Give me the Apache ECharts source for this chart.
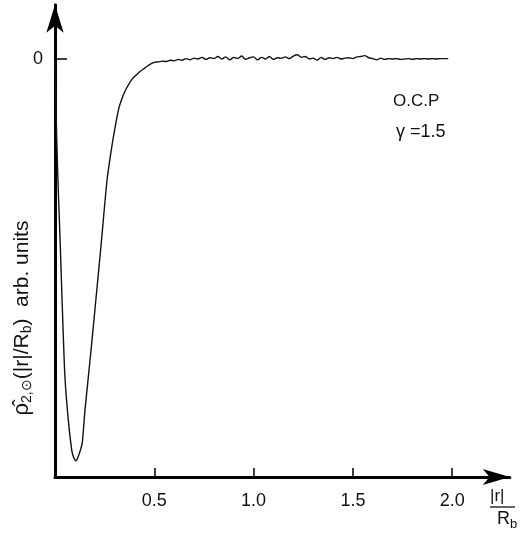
<!DOCTYPE html>
<html>
<head>
<meta charset="utf-8">
<script src="https://cdn.jsdelivr.net/npm/echarts@6/dist/echarts.min.js"></script>
<style>
html,body{margin:0;padding:0;background:#fff;}
#chart{width:521px;height:539px;}
</style>
</head>
<body>
<div id="chart"></div>
<script>
// r = |r|/R_b
const rValues = [
  0, 0.004, 0.013, 0.025, 0.038, 0.050, 0.067, 0.084, 0.093, 0.106, 0.118, 0.127, 0.137,
  0.151, 0.168, 0.185, 0.201, 0.232, 0.262, 0.282, 0.302, 0.322, 0.344, 0.36, 0.38,
  0.394, 0.41, 0.428, 0.445, 0.462, 0.48,
  0.50, 0.52, 0.54, 0.56, 0.58, 0.60, 0.62, 0.64, 0.66, 0.68, 0.70, 0.72, 0.74, 0.76, 0.78,
  0.80, 0.82, 0.84, 0.86, 0.88, 0.90, 0.92, 0.94, 0.96, 0.98, 1.00, 1.02, 1.04, 1.06, 1.08,
  1.10, 1.12, 1.14, 1.16, 1.18, 1.20, 1.22, 1.24, 1.26, 1.28, 1.30, 1.32, 1.34, 1.36, 1.38,
  1.40, 1.42, 1.44, 1.46, 1.48, 1.50, 1.52, 1.54, 1.56, 1.58, 1.60, 1.62, 1.64, 1.66, 1.68,
  1.70, 1.72, 1.74, 1.76, 1.78, 1.80, 1.82, 1.84, 1.86, 1.88, 1.90, 1.92, 1.94, 1.96, 1.98
];
// rho_2 (arb. units)
const rhoValues = [
  0, -0.098, -0.265, -0.425, -0.610, -0.760, -0.864, -0.935, -0.952, -0.961, -0.950, -0.937, -0.919,
  -0.840, -0.760, -0.679, -0.600, -0.445, -0.290, -0.222, -0.165, -0.117, -0.086, -0.070, -0.054,
  -0.045, -0.038, -0.030, -0.024, -0.018, -0.012,
  -0.008, -0.007, -0.005, -0.006, -0.003, -0.004, -0.001, -0.003, 0.001, -0.002, 0.002, 0.000, 0.004, -0.001, 0.003,
  0.001, 0.006, 0.000, 0.005, -0.002, 0.004, 0.001, 0.007, -0.001, 0.003, 0.005, -0.002, 0.004, 0.000, 0.006,
  -0.001, 0.003, 0.002, 0.005, 0.001, 0.007, 0.010, 0.004, 0.006, 0.000, 0.002, -0.003, 0.004, -0.001, 0.003,
  0.001, 0.004, 0.000, 0.002, 0.003, 0.001, 0.005, 0.006, 0.008, 0.003, 0.001, -0.002, 0.002, -0.001, 0.001,
  0.000, 0.001, -0.001, 0.000, 0.001, -0.001, 0.001, 0.000, 0.001, 0.000, 0.001, 0.000, 0.001, 0.001, 0.001
];
const xTickValues = [0.5, 1.0, 1.5, 2.0];
const xTickLabels = ['0.5', '1.0', '1.5', '2.0'];
const yTickValues = [0];
const yTickLabels = ['0'];

const chart = echarts.init(document.getElementById('chart'), null, {renderer: 'canvas'});
const font = 'Liberation Sans, Arial, sans-serif';
chart.setOption({
  animation: false,
  backgroundColor: '#fff',
  grid: {left: 55, right: 11.2, top: 4.66, bottom: 62, containLabel: false},
  xAxis: {
    type: 'value', min: 0, max: 2.29,
    axisLine: {show: true, onZero: false, lineStyle: {color: '#000', width: 3},
      symbol: ['none', 'arrow'], symbolSize: [12, 27]},
    axisTick: {show: true, inside: true, length: 9, lineStyle: {color: '#000', width: 1.5},
      customValues: xTickValues},
    axisLabel: {show: true, margin: 15, color: '#111', fontFamily: font, fontSize: 18,
      customValues: xTickValues,
      formatter: v => xTickLabels[xTickValues.indexOf(v)] || ''},
    splitLine: {show: false}
  },
  yAxis: {
    type: 'value', min: -1, max: 0.13,
    axisLine: {show: true, onZero: false, lineStyle: {color: '#000', width: 3},
      symbol: ['none', 'arrow'], symbolSize: [13, 28]},
    axisTick: {show: true, inside: true, length: 12, lineStyle: {color: '#000', width: 1.5},
      customValues: yTickValues},
    axisLabel: {show: true, margin: 12, color: '#111', fontFamily: font, fontSize: 18,
      customValues: yTickValues,
      formatter: v => yTickLabels[yTickValues.indexOf(v)] || ''},
    splitLine: {show: false}
  },
  series: [{
    type: 'line',
    data: rValues.map((r, i) => [r, rhoValues[i]]),
    showSymbol: false,
    smooth: 0.25,
    lineStyle: {color: '#111', width: 1.4},
    z: 3
  }],
  graphic: [
    {type: 'text', left: 393, top: 93, style: {text: 'O.C.P', font: '17px ' + font, fill: '#111'}},
    {type: 'text', left: 396, top: 123, style: {text: 'γ =1.5', font: '18px ' + font, fill: '#111'}},
    {type: 'text', x: 22, y: 318, rotation: Math.PI / 2,
      style: {
        text: '{rho|ρ̂}{sub|2,⊙}{t|(|r|/R}{sub|b}{t|)  arb. units}',
        align: 'center', verticalAlign: 'middle',
        rich: {
          rho: {fontFamily: font, fontSize: 22, fill: '#111'},
          t: {fontFamily: font, fontSize: 21, fill: '#111'},
          sub: {fontFamily: font, fontSize: 14, fill: '#111', padding: [10, 0, 0, 0]}
        }
      }},
    {type: 'text', left: 490, top: 488, style: {text: '|r|', font: '17px ' + font, fill: '#111'}},
    {type: 'line', shape: {x1: 490, y1: 507, x2: 515, y2: 507}, style: {stroke: '#111', lineWidth: 1.3}},
    {type: 'text', left: 497, top: 510,
      style: {text: '{t|R}{s|b}', rich: {
        t: {fontFamily: font, fontSize: 18, fill: '#111'},
        s: {fontFamily: font, fontSize: 13, fill: '#111', padding: [10, 0, 0, 0]}
      }}}
  ]
});
</script>
</body>
</html>
